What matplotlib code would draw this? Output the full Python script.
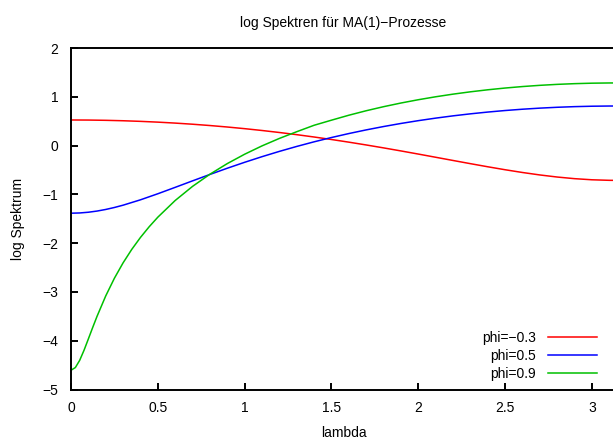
import numpy as np
import matplotlib
matplotlib.use("Agg")
import matplotlib.pyplot as plt

# Werte (log Spektrum je lambda)
lam = [0.0, 0.1, 0.2, 0.3, 0.4, 0.5, 0.6, 0.7, 0.8, 0.9, 1.0, 1.1, 1.2, 1.3, 1.4, 1.5,
       1.6, 1.7, 1.8, 1.9, 2.0, 2.1, 2.2, 2.3, 2.4, 2.5, 2.6, 2.7, 2.8, 2.9, 3.0, 3.1, 3.14159]

spek_m03 = [0.5247, 0.5229, 0.5176, 0.5088, 0.4963, 0.4803, 0.4607, 0.4376, 0.4108, 0.3805,
            0.3466, 0.3091, 0.2681, 0.2235, 0.1756, 0.1244, 0.0700, 0.0126, -0.0474, -0.1098,
            -0.1740, -0.2395, -0.3053, -0.3707, -0.4345, -0.4954, -0.5518, -0.6022, -0.6449,
            -0.6783, -0.7012, -0.7123, -0.7133]

lam_05 = [0.0, 0.05, 0.1, 0.15, 0.2, 0.25, 0.3, 0.4, 0.5, 0.6, 0.7, 0.8, 0.9, 1.0, 1.1,
          1.2, 1.3, 1.4, 1.5, 1.6, 1.7, 1.8, 1.9, 2.0, 2.1, 2.2, 2.3, 2.4, 2.5, 2.6, 2.7,
          2.8, 2.9, 3.0, 3.1, 3.14159]
spek_05 = [-1.3863, -1.3813, -1.3664, -1.3424, -1.3096, -1.2691, -1.2219, -1.1119, -0.9877,
           -0.8564, -0.7233, -0.5919, -0.4646, -0.3429, -0.2276, -0.1192, -0.0177, 0.0770,
           0.1649, 0.2463, 0.3213, 0.3902, 0.4532, 0.5106, 0.5624, 0.6090, 0.6504, 0.6868,
           0.7184, 0.7452, 0.7674, 0.7849, 0.7980, 0.8065, 0.8106, 0.8109]

# phi=0.9 braucht am Anfang feinere Punkte
lam_09 = [0.0, 0.025, 0.05, 0.075, 0.1, 0.125, 0.15, 0.2, 0.25, 0.3, 0.35, 0.4, 0.45, 0.5,
          0.6, 0.7, 0.8, 0.9, 1.0, 1.1, 1.2, 1.3, 1.4, 1.5, 1.6, 1.7, 1.8, 1.9, 2.0, 2.1,
          2.2, 2.3, 2.4, 2.5, 2.6, 2.7, 2.8, 2.9, 3.0, 3.1, 3.14159]
spek_09 = [-4.6052, -4.5505, -4.4023, -4.1957, -3.9633, -3.7279, -3.4996, -3.0819, -2.7188,
           -2.4037, -2.1275, -1.8832, -1.6650, -1.4681, -1.1258, -0.8364, -0.5872, -0.3695,
           -0.1774, -0.0065, 0.1465, 0.2841, 0.4161, 0.5204, 0.6220, 0.7139, 0.7970, 0.8721,
           0.9396, 1.0002, 1.0541, 1.1017, 1.1434, 1.1793, 1.2097, 1.2347, 1.2545, 1.2691,
           1.2787, 1.2833, 1.2837]

xticks = [0, 0.5, 1, 1.5, 2, 2.5, 3]
xticklabels = ["0", "0.5", "1", "1.5", "2", "2.5", "3"]
yticks = [-5, -4, -3, -2, -1, 0, 1, 2]

plt.rcParams['font.family'] = ['Liberation Sans', 'DejaVu Sans']
plt.rcParams['font.size'] = 10

W, H = 613, 441
fig = plt.figure(figsize=(W / 100, H / 100), dpi=100)
# Achsen ragen rechts etwas aus dem Bild heraus (wie im Original)
ax = fig.add_axes([71 / W, 1 - 389.5 / H, 545.5 / W, 341.5 / H])

ax.plot(lam, spek_m03, color='#ff0000', lw=1.1, label='phi=\u22120.3')
ax.plot(lam_05, spek_05, color='#0000ff', lw=1.1, label='phi=0.5')
ax.plot(lam_09, spek_09, color='#00c000', lw=1.1, label='phi=0.9')

ax.set_xlim(0, np.pi)
ax.set_ylim(-5, 2)
ax.set_xticks(xticks)
ax.set_xticklabels(xticklabels)
ax.set_yticks(yticks)
ax.set_yticklabels([str(v).replace('-', '\u2212') for v in yticks])

for s in ['left', 'bottom', 'top', 'right']:
    ax.spines[s].set_linewidth(1.4)
ax.tick_params(direction='in', length=5, width=1.4)
ax.tick_params(axis='y', pad=9)
ax.tick_params(axis='x', pad=8)

ax.set_xlabel('lambda')
ax.set_ylabel('log Spektrum')
ax.xaxis.set_label_coords((343.5 - 71) / 545.5, -(433 - 389.5) / 341.5)
ax.yaxis.set_label_coords(-(71 - 18) / 545.5, 0.5)
ax.xaxis.label.set_verticalalignment('center')
ax.yaxis.label.set_verticalalignment('center')

fig.text(343.5 / W, 1 - 22.5 / H, 'log Spektren f\u00fcr MA(1)\u2212Prozesse',
         ha='center', va='center', fontsize=10)

leg = ax.legend(loc='lower right', bbox_to_anchor=(597 / W, 1 - 381 / H),
                bbox_transform=fig.transFigure, frameon=False, markerfirst=False,
                borderpad=0, borderaxespad=0, handlelength=3.5, handletextpad=0.9,
                labelspacing=0.3)

fig.savefig('out.png', dpi=100)
